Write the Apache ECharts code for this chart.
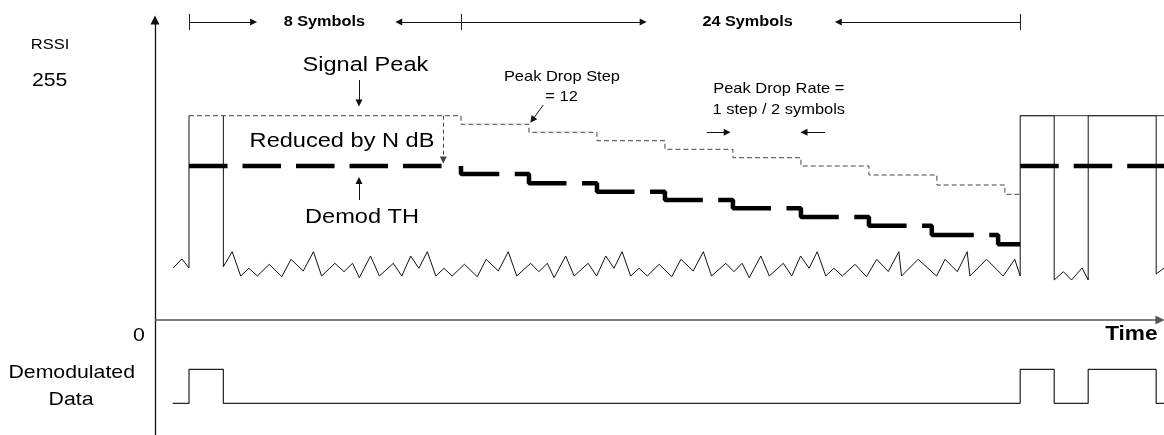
<!DOCTYPE html>
<html>
<head>
<meta charset="utf-8">
<script src="https://cdn.jsdelivr.net/npm/echarts@6/dist/echarts.min.js"></script>
<style>
  html, body { margin: 0; padding: 0; background: #fff; }
  #chart { width: 1164px; height: 435px; }
</style>
</head>
<body>
<div id="chart"></div>
<script>
// x = time in symbols (axis origin = 0), y = level (RSSI axis at 0)

// received signal, before the first burst
var signalPre = [[0.53, 52], [0.79, 61], [1, 52], [1, 204.3]];

// received signal: end of first burst, noise floor, second burst
var signalMain = [
  [2.01, 204.3], [2.01, 53.3],
  [2.27, 68.3], [2.52, 44], [2.76, 51.7], [3.01, 44], [3.36, 55.7], [3.73, 43.3], [4.0, 60.7], [4.36, 49],
  [4.66, 68.3], [4.9, 44], [5.29, 56.7], [5.56, 48.3], [5.81, 56.7], [6.01, 42.3], [6.34, 64], [6.6, 44],
  [7.01, 56.7], [7.26, 44], [7.52, 64], [7.76, 51.7],
  [8.01, 68.3], [8.26, 44], [8.5, 51.7], [8.74, 44], [9.1, 55.7], [9.48, 43.3], [9.74, 60.7], [10.1, 49],
  [10.39, 68.3], [10.64, 44], [11.05, 56.7], [11.29, 48.3], [11.54, 56.7], [11.74, 42.3], [12.08, 64], [12.33, 44],
  [12.74, 56.7], [12.99, 44], [13.26, 64], [13.5, 51.7],
  [13.74, 68.3], [13.99, 44], [14.24, 51.7], [14.48, 44], [14.83, 55.7], [15.2, 43.3], [15.47, 60.7], [15.83, 49],
  [16.13, 68.3], [16.37, 44], [16.79, 56.7], [17.03, 48.3], [17.27, 56.7], [17.48, 42.3], [17.82, 64], [18.07, 44],
  [18.48, 56.7], [18.73, 44], [18.99, 64], [19.24, 51.7],
  [19.48, 68.3], [19.73, 44], [19.97, 51.7], [20.22, 44], [20.59, 55.7], [20.93, 43.3], [21.23, 60.7], [21.57, 48.5],
  [21.88, 68.3], [21.96, 44], [22.45, 60.7], [22.99, 44], [23.24, 60.7], [23.6, 48.3], [23.89, 68.3], [23.97, 44],
  [24.46, 60.7], [24.95, 44], [25.29, 60.7], [25.45, 44],
  [25.45, 204.3], [26.45, 204.3], [26.45, 40], [26.72, 48.3], [26.96, 40], [27.27, 52], [27.45, 40],
  [27.45, 204.3], [29.45, 204.3], [29.45, 46], [29.68, 52]
];

// peak held during the second burst
var peakHold = [[25.45, 204.3], [29.68, 204.3]];

// signal peak, dropping one step every 2 symbols
var peakDrop = [
  [1, 204.3], [9, 204.3], [9, 195.7], [11, 195.7], [11, 187.7], [13, 187.7], [13, 179.3], [15, 179.3],
  [15, 170.7], [17, 170.7], [17, 162.3], [19, 162.3], [19, 154], [21, 154], [21, 145], [23, 145],
  [23, 135], [25, 135], [25, 125.7], [25.45, 125.7]
];

// demod threshold (peak reduced by N dB)
var demodThA = [[1, 154], [8.48, 154]];
var demodThB = [
  [9, 154], [9, 146], [11, 146], [11, 136.7], [13, 136.7], [13, 128.3], [15, 128.3], [15, 120],
  [17, 120], [17, 111.7], [19, 111.7], [19, 103], [21, 103], [21, 94.3], [22.85, 94.3], [22.85, 85],
  [24.8, 85], [24.8, 75.7], [25.45, 75.7]
];
var demodThC = [[25.45, 154], [29.68, 154]];

// demodulated data (low / high)
var demodData = [
  [0.52, -83.3], [1, -83.3], [1, -49.3], [2.01, -49.3], [2.01, -83.3], [25.45, -83.3], [25.45, -49.3],
  [26.45, -49.3], [26.45, -83.3], [27.45, -83.3], [27.45, -49.3], [29.45, -49.3], [29.45, -83.3], [29.68, -83.3]
];

// axes, bracket ticks and arrows (from -> to, arrow at "to")
var axisLines = [[[0, -115], [0, 300]], [[0, 0], [29.56, 0]]];
var bracketTicks = [[[1, 306], [1, 290]], [[9, 306], [9, 290]], [[25.46, 306], [25.46, 290]]];
var bracketArrows = [
  [[1, 298], [2.9, 298]], [[9, 298], [7.17, 298]],
  [[9, 298], [14.36, 298]], [[25.46, 298], [20.1, 298]]
];
var noteArrows = [
  [[6.0, 240], [6.0, 217]], [[6.0, 120], [6.0, 139.5]],
  [[11.42, 215], [11.1, 200]],
  [[16.23, 187.7], [16.83, 187.7]], [[19.71, 187.7], [19.09, 187.7]]
];
var reducedArrow = [[[8.48, 204.3], [8.48, 160]]];

// text labels
var labelTexts = [
  '8 Symbols', '24 Symbols', 'RSSI', '255', 'Signal Peak', 'Reduced by N dB', 'Demod TH',
  'Peak Drop Step', '= 12', 'Peak Drop Rate =', '1 step / 2 symbols', 'Time', '0', 'Demodulated', 'Data'
];
var labelPos = [
  [4.98, 298], [17.43, 298], [-3.09, 275], [-3.1, 239], [6.19, 255], [5.5, 178.3], [6.09, 102.7],
  [11.97, 242.5], [11.96, 223], [18.35, 231], [18.35, 210], [28.72, -15], [-0.47, -16], [-2.45, -53.3], [-2.47, -80.3]
];

var FONT = "'Liberation Sans', Arial, sans-serif";
var fontKinds = {
  bold: { font: 'bold 14px ' + FONT, sx: 1.16 },
  big: { font: '20.5px ' + FONT, sx: 1.15 },
  mid: { font: '18.5px ' + FONT, sx: 1.15 },
  small: { font: '14.3px ' + FONT, sx: 1.15 },
  rssi: { font: '15px ' + FONT, sx: 1.1 },
  time: { font: 'bold 19.7px ' + FONT, sx: 1.15 }
};
var labelKinds = ['bold', 'bold', 'rssi', 'mid', 'big', 'big', 'big', 'small', 'small', 'small', 'small', 'time', 'mid', 'mid', 'mid'];

function toLines (arr) {
  return arr.map(function (c) { return { coords: c }; });
}

function plainLine (data, color, width, type, z, offset) {
  return {
    type: 'line',
    data: data,
    showSymbol: false,
    symbol: 'none',
    z: z || 2,
    lineStyle: { color: color, width: width, type: type || 'solid', dashOffset: offset || 0, cap: 'butt' }
  };
}

function arrowLines (arr, color, width, size, type) {
  return {
    type: 'lines',
    coordinateSystem: 'cartesian2d',
    data: toLines(arr),
    symbol: ['none', 'triangle'],
    symbolSize: size,
    z: 5,
    silent: true,
    lineStyle: { color: color, width: width, type: type || 'solid', opacity: 1 },
    itemStyle: { color: color }
  };
}

var chart = echarts.init(document.getElementById('chart'));
chart.setOption({
  animation: false,
  backgroundColor: '#fff',
  grid: { left: 0, right: 0, top: 0, bottom: 0 },
  xAxis: { type: 'value', min: -4.56, max: 29.68, show: false },
  yAxis: { type: 'value', min: -115, max: 320, show: false },
  series: [
    plainLine(signalPre, '#111', 1),
    plainLine(signalMain, '#111', 1),
    plainLine(peakHold, '#333', 1),
    plainLine(peakDrop, '#444', 1, [5, 3], 3),
    plainLine(demodThA, '#000', 4.5, [38.5, 15], 4),
    plainLine(demodThB, '#000', 4.5, [61, 15.5], 4, 14.7),
    plainLine(demodThC, '#000', 4.5, [38.5, 15], 4),
    plainLine(demodData, '#222', 1.2),
    {
      type: 'lines', coordinateSystem: 'cartesian2d', data: toLines(bracketTicks),
      silent: true, lineStyle: { color: '#222', width: 1, opacity: 1 }
    },
    arrowLines([axisLines[0]], '#111', 1.3, 9),
    arrowLines([axisLines[1]], '#555', 1.6, 9),
    arrowLines(bracketArrows, '#111', 1, 7),
    arrowLines(noteArrows, '#111', 1, 7),
    arrowLines(reducedArrow, '#444', 1, 7, [4, 3]),
    {
      type: 'custom',
      data: labelPos,
      silent: true,
      z: 10,
      renderItem: function (params, api) {
        var p = api.coord([api.value(0), api.value(1)]);
        var k = fontKinds[labelKinds[params.dataIndex]];
        return {
          type: 'text',
          x: p[0],
          y: p[1],
          scaleX: k.sx,
          style: {
            text: labelTexts[params.dataIndex],
            font: k.font,
            fill: '#000',
            align: 'center',
            verticalAlign: 'middle'
          }
        };
      }
    }
  ]
});
</script>
</body>
</html>
